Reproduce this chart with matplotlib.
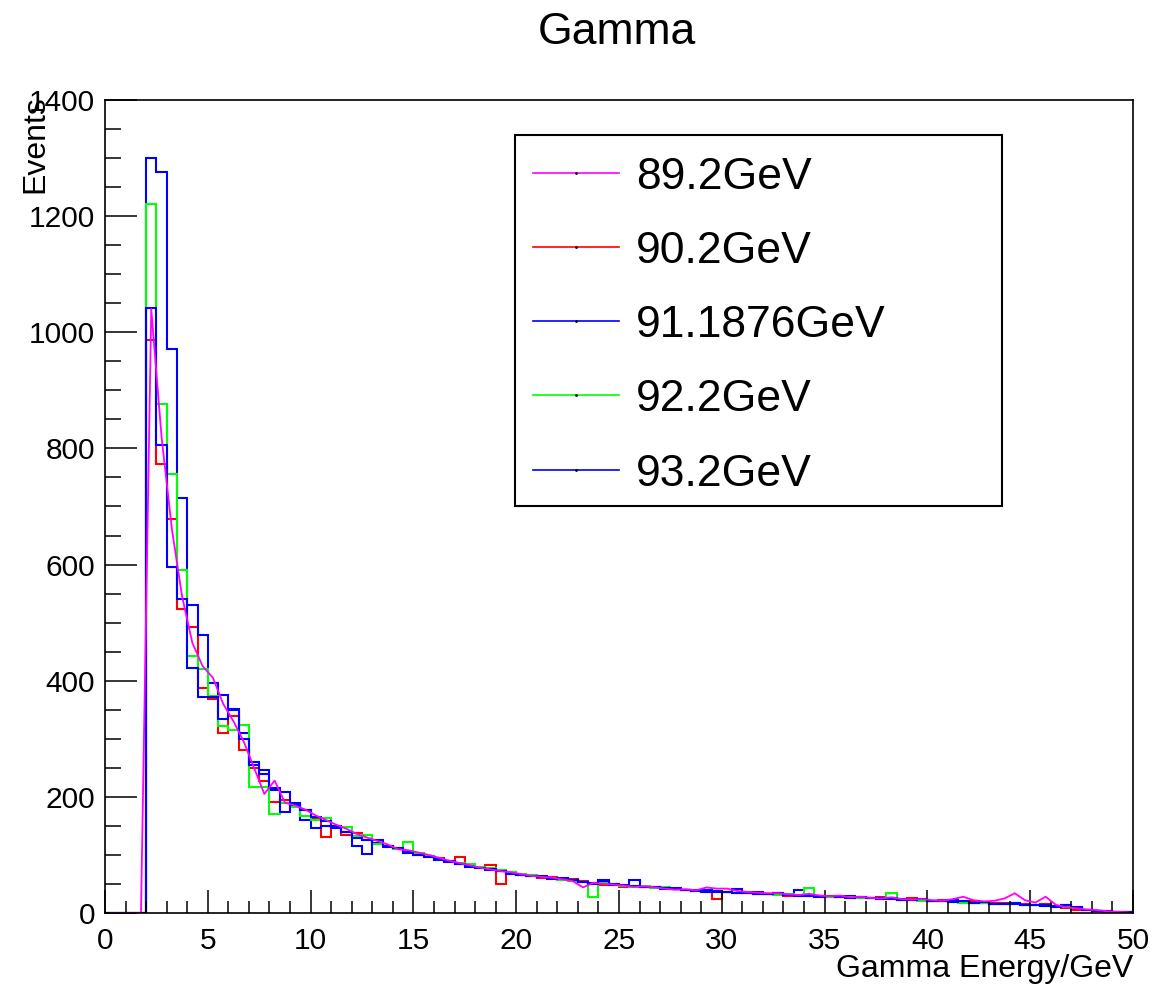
import numpy as np
import matplotlib
matplotlib.use('Agg')
import matplotlib.pyplot as plt
from matplotlib.lines import Line2D
from matplotlib.patches import Rectangle
from matplotlib.ticker import MultipleLocator

plt.rcParams['font.family'] = ['Liberation Sans', 'DejaVu Sans']

# 100 bins of 0.5 GeV from 0 to 50
bin_width = 0.5
n_bins = 100

labels = ['89.2GeV', '90.2GeV', '91.1876GeV', '92.2GeV', '93.2GeV']
colors = ['#ff00ff', '#ff0000', '#0000ff', '#00ff00', '#0000ff']

# events per bin
ev_892 = [0, 0, 0, 0, 1040, 820, 662, 545, 465, 425,
          405, 360, 330, 295, 250, 205, 228, 190, 185, 178,
          168, 160, 152, 145, 136, 130, 124, 118, 110, 108,
          104, 100, 95, 90, 86, 82, 78, 75, 72, 70,
          67, 64, 62, 61, 58, 55, 44, 52, 50, 49,
          47, 45, 46, 44, 42, 40, 41, 39, 44, 42,
          42, 38, 36, 35, 34, 34, 32, 31, 33, 30,
          29, 30, 27, 28, 26, 25, 27, 24, 23, 24,
          22, 21, 24, 28, 22, 20, 21, 25, 34, 22,
          18, 28, 14, 10, 8, 6, 5, 3, 2, 1]

ev_902 = [0, 0, 0, 0, 987, 774, 679, 523, 493, 388,
          368, 310, 340, 280, 250, 228, 192, 195, 186, 178,
          162, 131, 150, 134, 138, 125, 118, 115, 112, 106,
          103, 98, 94, 90, 97, 80, 79, 82, 50, 70,
          66, 66, 60, 62, 56, 58, 55, 52, 49, 50,
          45, 47, 44, 45, 43, 41, 40, 38, 37, 24,
          36, 35, 37, 33, 32, 34, 30, 31, 29, 30,
          28, 29, 26, 27, 25, 27, 24, 23, 25, 22,
          21, 22, 20, 19, 21, 18, 17, 18, 16, 15,
          14, 15, 12, 8, 5, 6, 3, 2, 2, 1]

ev_911876 = [0, 0, 0, 0, 1300, 1276, 972, 715, 530, 479,
             396, 375, 350, 310, 260, 246, 212, 209, 186, 160,
             146, 150, 146, 140, 130, 125, 120, 114, 110, 104,
             100, 98, 92, 88, 85, 82, 78, 74, 72, 70,
             66, 64, 63, 60, 58, 56, 54, 52, 57, 48,
             46, 57, 45, 44, 42, 43, 40, 39, 37, 38,
             36, 41, 34, 36, 33, 32, 33, 40, 31, 29,
             28, 27, 29, 26, 25, 26, 24, 24, 23, 22,
             21, 20, 22, 19, 18, 17, 16, 16, 15, 14,
             13, 14, 12, 13, 9, 5, 4, 3, 2, 1]

ev_922 = [0, 0, 0, 0, 1221, 876, 756, 591, 442, 420,
          373, 322, 315, 324, 217, 217, 170, 190, 183, 167,
          160, 163, 150, 148, 132, 134, 118, 116, 110, 122,
          104, 99, 93, 89, 86, 84, 80, 77, 74, 70,
          67, 65, 62, 60, 57, 55, 53, 28, 52, 50,
          47, 45, 46, 43, 44, 42, 40, 38, 39, 37,
          36, 35, 34, 33, 32, 31, 33, 30, 43, 29,
          28, 27, 28, 26, 25, 24, 34, 23, 22, 21,
          20, 21, 19, 18, 17, 18, 16, 15, 17, 14,
          13, 12, 11, 10, 8, 6, 4, 3, 2, 1]

ev_932 = [0, 0, 0, 0, 1042, 806, 595, 540, 422, 372,
          372, 334, 352, 300, 255, 240, 215, 174, 190, 178,
          165, 158, 150, 140, 115, 102, 125, 116, 112, 105,
          100, 96, 93, 90, 84, 80, 78, 75, 72, 68,
          65, 63, 62, 58, 60, 56, 54, 50, 55, 50,
          48, 46, 45, 44, 43, 41, 40, 38, 39, 36,
          37, 34, 35, 33, 32, 34, 31, 30, 29, 28,
          30, 27, 26, 28, 25, 24, 25, 23, 22, 24,
          20, 21, 19, 20, 18, 19, 15, 16, 17, 13,
          14, 12, 11, 13, 10, 5, 4, 3, 2, 1]

series = [ev_892, ev_902, ev_911876, ev_922, ev_932]

edges = np.arange(n_bins + 1) * bin_width
centers = edges[:-1] + bin_width / 2

W, H = 1157, 988
fig = plt.figure(figsize=(W / 100, H / 100), dpi=100)
ax = fig.add_axes([105 / W, 1 - 913 / H, (1133 - 105) / W, (913 - 100) / H])

# first one drawn as a polyline through bin centres, the rest as histograms
ax.plot(centers, ev_892, color=colors[0], lw=1.3)
for vals, c in zip(series[1:], colors[1:]):
    ax.stairs(vals, edges, color=c, lw=1.5, baseline=0)

ax.set_xlim(0, 50)
ax.set_ylim(0, 1400)
ax.xaxis.set_major_locator(MultipleLocator(5))
ax.xaxis.set_minor_locator(MultipleLocator(1))
ax.yaxis.set_major_locator(MultipleLocator(200))
ax.yaxis.set_minor_locator(MultipleLocator(50))
ax.tick_params(which='both', direction='in', top=False, right=False,
               width=1.1, labelsize=21.5)
ax.tick_params(axis='y', which='major', length=23, pad=7)
ax.tick_params(axis='y', which='minor', length=11.5)
ax.tick_params(axis='x', which='major', length=16.5, pad=10)
ax.tick_params(axis='x', which='minor', length=8.6)
for sp in ax.spines.values():
    sp.set_linewidth(1.2)

fig.text(617 / W, 1 - 33 / H, 'Gamma', ha='center', va='center', fontsize=32)
fig.text(1133 / W, 1 - 977 / H, 'Gamma Energy/GeV', ha='right',
         va='baseline', fontsize=23)
fig.text(35 / W, 1 - 95 / H, 'Events', rotation=90, ha='center', va='top',
         fontsize=23)

# legend box drawn by hand to match the ROOT layout
fig.add_artist(Rectangle((515 / W, 1 - 506 / H), (1002 - 515) / W,
                         (506 - 135) / H, transform=fig.transFigure,
                         facecolor='white', edgecolor='black', lw=1.5))
row_y = [172.7, 246.7, 321, 395.3, 469.7]
for lab, c, ry in zip(labels, colors, row_y):
    fy = 1 - ry / H
    fig.add_artist(Line2D([533 / W, 619 / W], [fy, fy],
                          transform=fig.transFigure, color=c, lw=1.2))
    fig.add_artist(Line2D([576 / W], [fy], transform=fig.transFigure,
                          marker='.', ms=2, color='black', lw=0))
    fig.text(636 / W, 1 - (ry + 16) / H, lab, ha='left', va='baseline',
             fontsize=32)

fig.savefig('out.png', dpi=100)
